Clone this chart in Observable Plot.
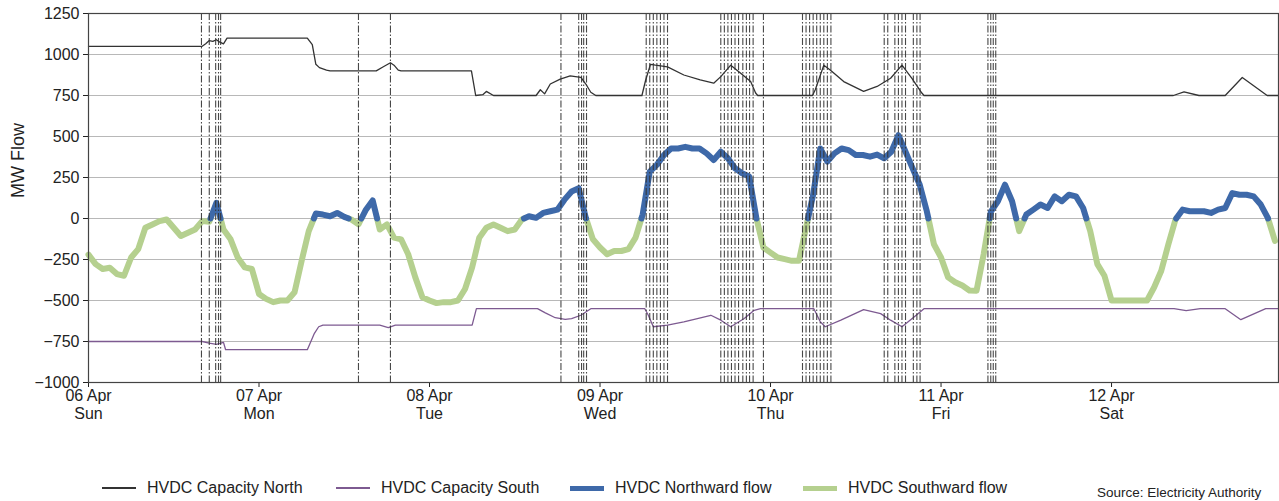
<!DOCTYPE html>
<html><head><meta charset="utf-8">
<script src="https://cdn.jsdelivr.net/npm/d3@7"></script>
<script src="https://cdn.jsdelivr.net/npm/@observablehq/plot@0.6"></script>
<style>
body{margin:0;background:#fff;font-family:"Liberation Sans",Arial,sans-serif;}
#wrap{position:relative;width:1279px;height:501px;overflow:hidden}
#legend{position:absolute;left:0;top:440px;width:1279px;height:61px;}
.item{position:absolute;top:38px;height:20px;display:flex;align-items:center;font-size:16px;color:#222;white-space:nowrap}
.sw{display:inline-block;width:34px;margin-right:11px}
.src{position:absolute;top:45px;left:1097px;font-size:13.5px;color:#222;white-space:nowrap}
</style></head><body>
<div id="wrap"><div id="chart"></div><div id="legend"></div></div>
<script>
// ---- tick labels ----
const dayLabels = ["06 Apr","07 Apr","08 Apr","09 Apr","10 Apr","11 Apr","12 Apr"];
const weekdayLabels = ["Sun","Mon","Tue","Wed","Thu","Fri","Sat"];
const yTicks = [-1000,-750,-500,-250,0,250,500,750,1000,1250];
const yLabel = "MW Flow";

// ---- HVDC flow, hourly from 06 Apr 00:00 (MW, + = northward, - = southward) ----
const flow = [
 -220,-278,-308,-300,-339,-349,-238,-187,-56,-36,-16,-6,-56,-107,-87,-67,-16,-20,95,-67,
 -127,-238,-298,-308,-460,-490,-510,-500,-500,-450,-258,-77,30,24,14,34,10,-6,-36,50,
 110,-67,-36,-117,-127,-218,-359,-480,-500,-516,-510,-510,-500,-430,-298,-117,-56,-36,-56,-77,
 -67,-6,14,4,34,44,54,115,165,185,4,-127,-177,-218,-198,-198,-187,-117,24,286,
 327,387,427,427,437,427,427,397,357,407,367,306,276,256,4,-177,-208,-238,-248,-258,
 -258,-56,145,427,347,397,427,417,387,387,377,390,367,407,508,407,306,206,44,-157,
 -238,-359,-389,-409,-439,-440,-218,40,105,206,105,-77,24,54,85,64,135,105,145,135,
 64,-77,-278,-349,-500,-500,-500,-500,-500,-500,-419,-319,-157,-6,54,44,44,44,34,54,
 64,155,145,145,135,85,4,-137
];

// ---- HVDC capacity north: (hour, MW) ----
const capNorthHour = [0,16,16.5,17,17.5,18,18.5,19,19.5,30.8,31.5,32,32.5,33.5,34,40.5,41.5,42.5,43,43.6,44,53.9,54.5,55.5,56,57,63,63.6,64.2,65,66.4,67.8,69.3,70,70.7,71.4,77.9,78.4,79.1,79.8,81.5,83.8,86.1,88,89,90.4,91.8,93.2,93.9,94.2,101.9,102.3,103.5,104.4,106.3,109.1,111,112.9,114.5,115.9,117.3,117.6,152.7,154.2,156.3,160,162.4,165.9,167.5];
const capNorthMW   = [1050,1050,1065,1085,1080,1090,1075,1065,1100,1100,1060,940,920,905,900,900,925,950,935,905,900,900,750,755,775,750,750,785,760,820,850,870,860,820,770,750,750,840,940,935,925,875,845,825,865,935,885,835,765,750,750,785,935,905,835,775,805,855,935,855,765,750,750,772,750,750,860,750,750];

// ---- HVDC capacity south: (hour, MW) ----
const capSouthHour = [0,16,17,18,19,19.3,30.8,31.8,32.4,33,41,42.2,43.2,54,54.6,63.2,64.3,65.7,67.1,68,69.3,70,70.7,78.3,78.8,79.5,81.5,83.8,87.6,89,90.4,92.3,93.7,94.6,102.1,103,103.7,105.9,109.1,111.5,112.9,114.5,116.2,117.6,152.8,154.5,156.5,160,162.2,165.7,167.5];
const capSouthMW   = [-750,-750,-760,-768,-755,-800,-800,-700,-660,-650,-650,-665,-650,-650,-550,-550,-575,-605,-615,-610,-590,-570,-550,-550,-590,-660,-650,-630,-590,-620,-660,-610,-560,-550,-550,-630,-660,-620,-556,-580,-620,-660,-600,-550,-550,-562,-550,-550,-617,-550,-550];

// ---- event markers (hours from 06 Apr 00:00) ----
const eventHours = [15.9,17.0,17.9,18.3,18.6,38.0,42.5,66.5,69.0,69.4,69.7,70.1,
 78.5,79.0,79.5,80.0,80.5,81.0,81.5,89.0,89.5,90.0,90.5,91.0,91.5,92.1,92.6,93.05,93.55,95.0,
 100.5,101.0,101.5,102.0,102.5,103.0,103.5,104.0,104.5,112.0,112.5,113.5,114.0,114.5,115.0,116.1,116.6,117.05,
 126.6,127.0,127.35,127.7];

const seriesNames = ["HVDC Capacity North","HVDC Capacity South","HVDC Northward flow","HVDC Southward flow"];
const seriesColors = ["#333333","#7d5a91","#3e69a9","#b5d08f"];

// ---- helpers ----
const t0 = Date.UTC(2025,3,6);
const T = h => new Date(t0 + h*3600e3);
const dayTicks = dayLabels.map((_,i)=>T(24*i));

const flowRows = [];
let run = 0;
const dirOf = v => v >= 0 ? "N" : "S";
let cur = dirOf(flow[0]);
flowRows.push({t:T(0), v:flow[0], run, dir:cur});
for (let i=1;i<flow.length;i++){
  const a = flow[i-1], b = flow[i], d = dirOf(b);
  if (d !== cur){
    const f = a/(a-b);
    const tc = T(i-1+f);
    flowRows.push({t:tc, v:0, run, dir:cur});
    run++; cur = d;
    flowRows.push({t:tc, v:0, run, dir:cur});
  }
  flowRows.push({t:T(i), v:b, run, dir:cur});
}
const capN = capNorthHour.map((h,i)=>({t:T(h), v:capNorthMW[i]}));
const capS = capSouthHour.map((h,i)=>({t:T(h), v:capSouthMW[i]}));
const events = eventHours.map(T);

const chart = Plot.plot({
  width:1279, height:440,
  marginTop:13, marginBottom:58, marginLeft:88, marginRight:1,
  style:{fontFamily:'"Liberation Sans", Arial, sans-serif', fontSize:"16px", color:"#222", background:"#fff"},
  x:{type:"utc", domain:[T(0), T(167.5)]},
  y:{domain:[-1000,1250]},
  marks:[
    Plot.gridY(yTicks,{stroke:"#b8b8b8", strokeOpacity:1, strokeWidth:1}),
    Plot.line(flowRows.filter(d=>d.dir==="S"),{x:"t",y:"v",z:"run",stroke:seriesColors[3],strokeWidth:6,strokeLinecap:"round",strokeLinejoin:"round"}),
    Plot.line(flowRows.filter(d=>d.dir==="N"),{x:"t",y:"v",z:"run",stroke:seriesColors[2],strokeWidth:6,strokeLinecap:"round",strokeLinejoin:"round"}),
    Plot.line(capN,{x:"t",y:"v",stroke:seriesColors[0],strokeWidth:1.3}),
    Plot.line(capS,{x:"t",y:"v",stroke:seriesColors[1],strokeWidth:1.3}),
    Plot.ruleX(events,{stroke:"#333",strokeWidth:1.1,strokeDasharray:"7,2,1.5,2",strokeOpacity:0.9}),
    Plot.axisY({ticks:yTicks, tickSize:5, tickPadding:4, tickFormat:d=>d<0?"\u2212"+Math.abs(d):String(d), label:null, fontSize:16}),
    Plot.text([yLabel],{frameAnchor:"left", text:d=>d, rotate:-90, dx:-70, fontSize:18, fill:"#222"}),
    Plot.axisX({ticks:dayTicks, tickSize:5, tickPadding:1, lineHeight:1.12, label:null,
      tickFormat:d=>{const i=Math.round((d-t0)/864e5); return dayLabels[i]+"\n"+weekdayLabels[i];}}),
    Plot.frame({stroke:"#444", strokeWidth:1.2})
  ]
});
document.getElementById("chart").appendChild(chart);

// ---- legend ----
const legend = document.getElementById("legend");
const lefts = [102,336,570,803];
const widths = [1.5,1.5,5,5];
seriesNames.forEach((n,i)=>{
  const it = document.createElement("div");
  it.className="item"; it.style.left=lefts[i]+"px";
  const sw = document.createElement("span"); sw.className="sw";
  sw.style.height=widths[i]+"px"; sw.style.background=seriesColors[i];
  it.appendChild(sw); it.appendChild(document.createTextNode(n));
  legend.appendChild(it);
});
const src=document.createElement("div"); src.className="src"; src.textContent="Source: Electricity Authority";
legend.appendChild(src);
</script>
</body></html>
